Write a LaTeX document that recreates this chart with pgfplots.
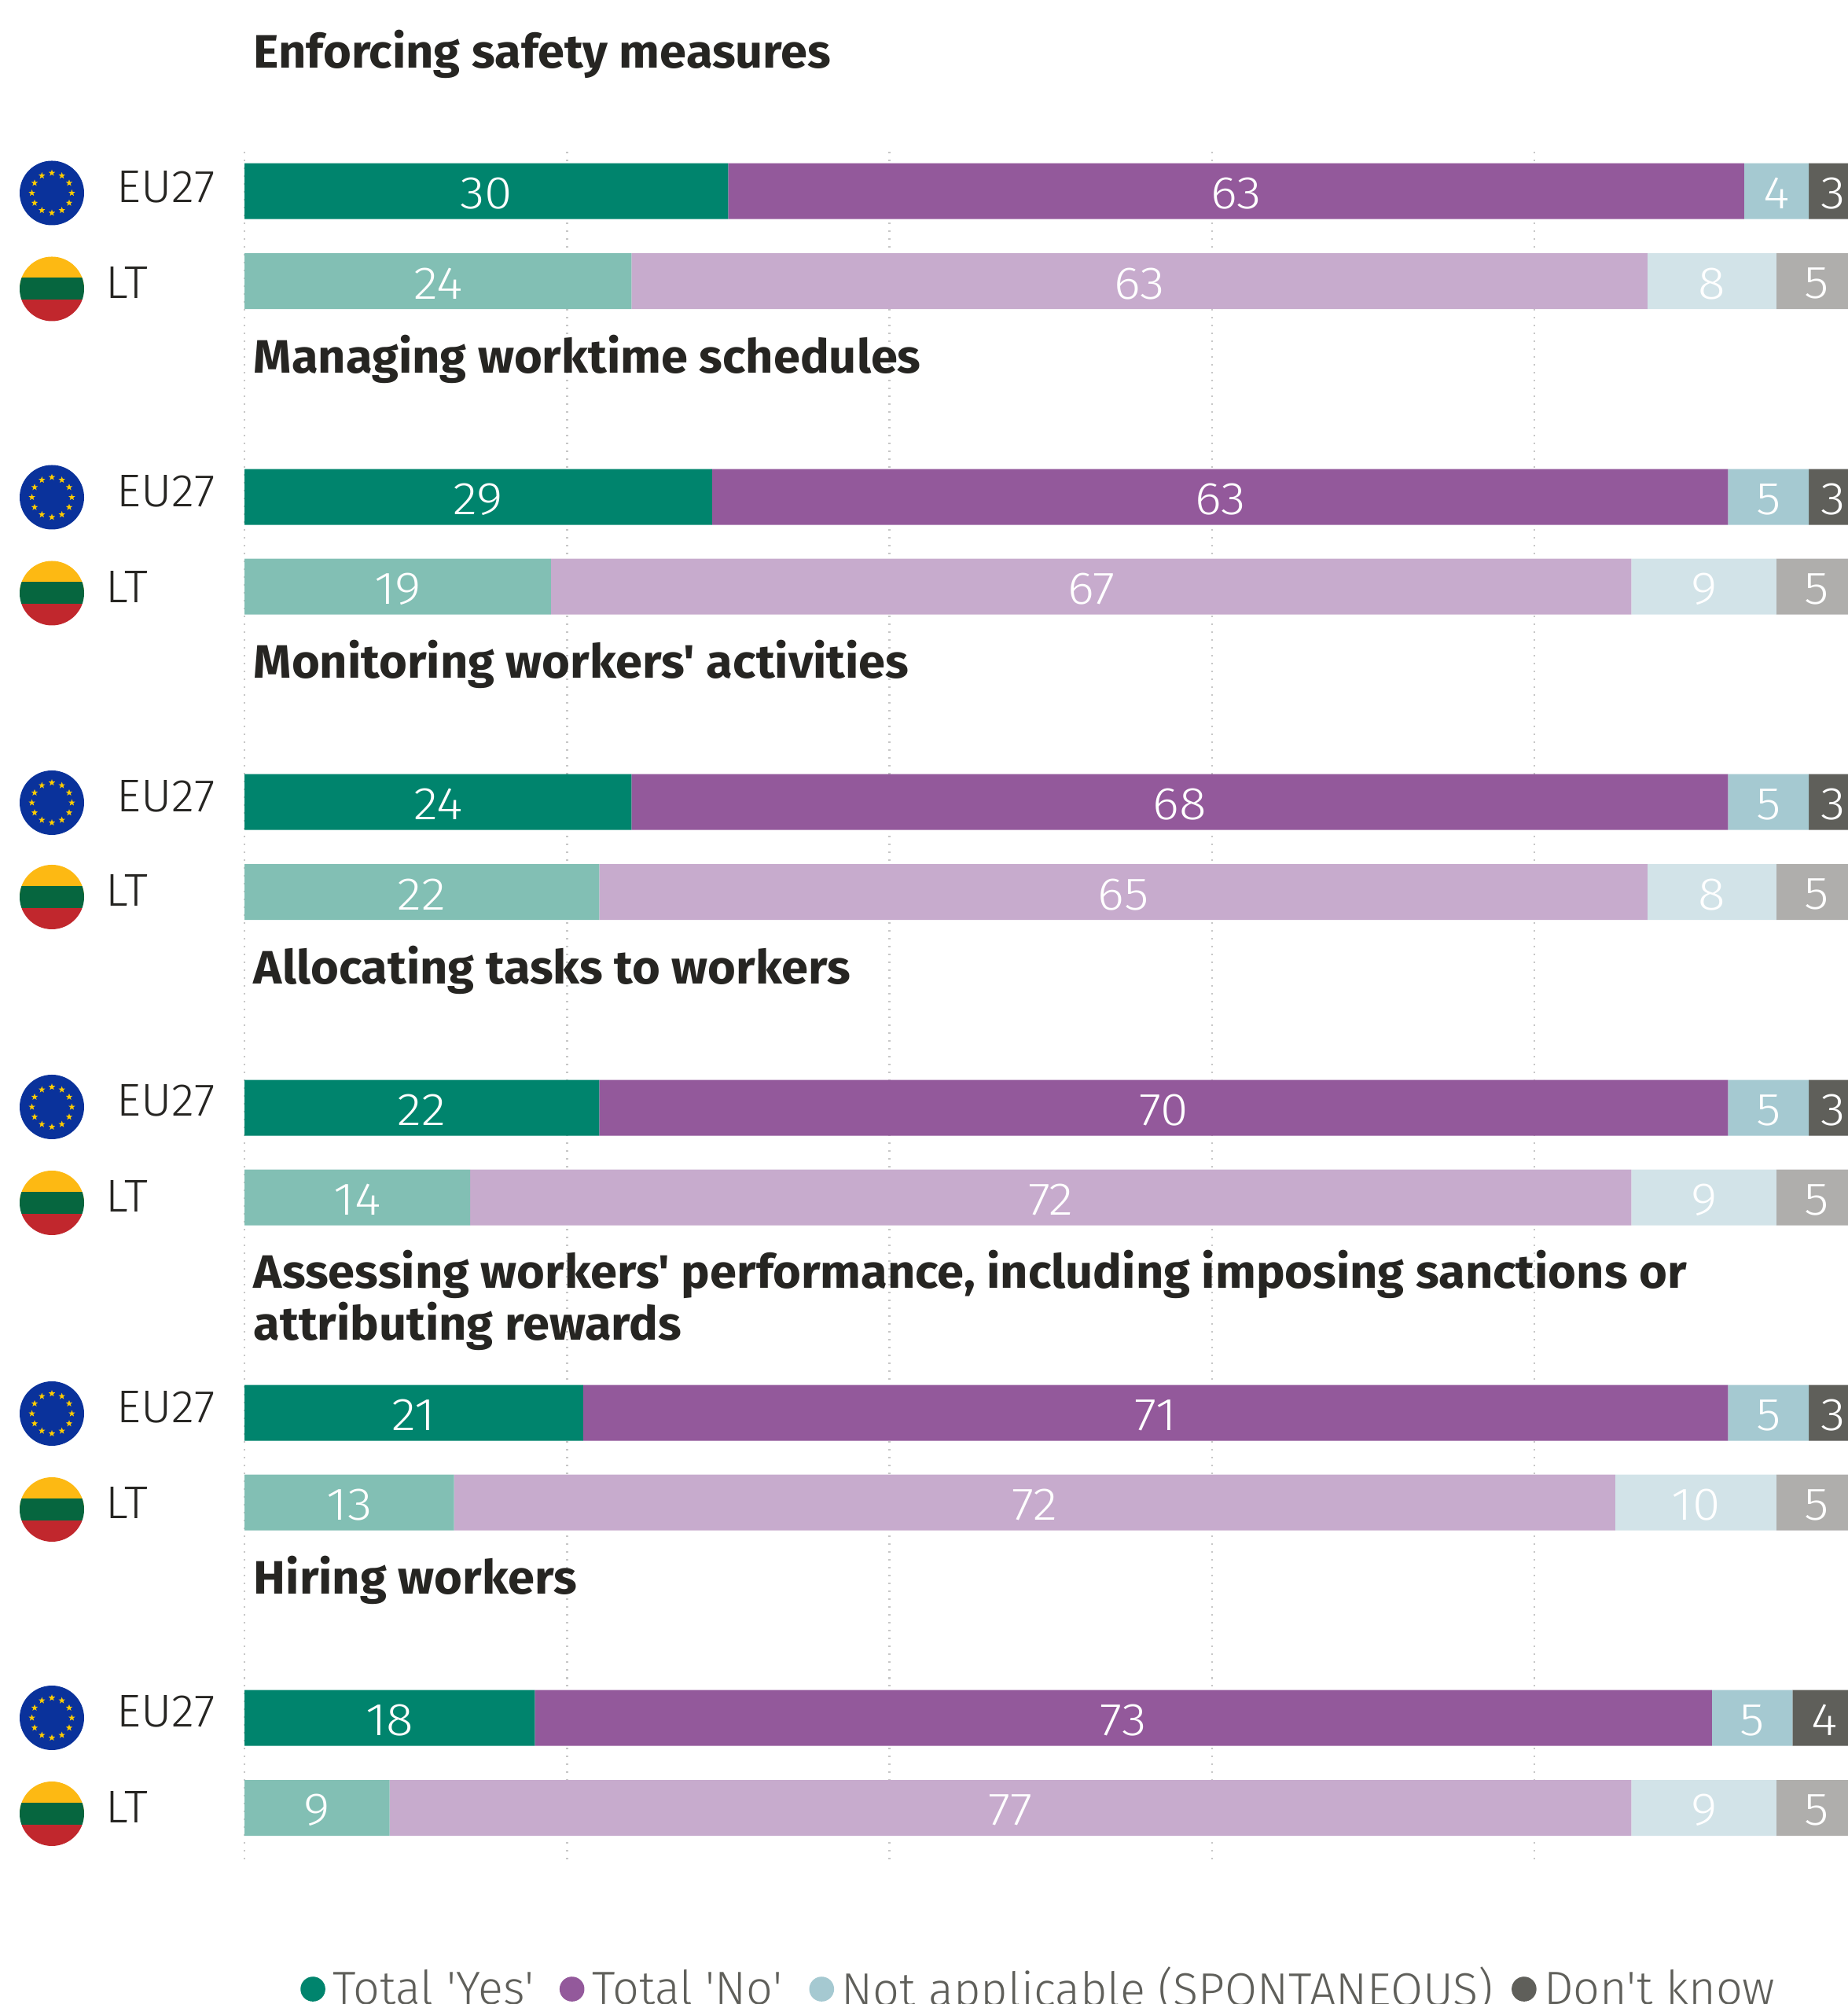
\documentclass[border=0pt]{standalone}
\usepackage{fontspec}
\usepackage{pgfplots}
\usepackage{pgfplotstable}
\pgfplotsset{compat=1.18}
\usetikzlibrary{shapes.geometric,calc}
\newfontfamily\titlefont{Fira Sans}[BoldFont={Fira Sans Bold},BoldFeatures={FakeStretch=1.03}]
\newfontfamily\lightfont{Fira Sans Light}[FakeStretch=1.03]
\newfontfamily\digitfont{Fira Sans Light}[FakeStretch=1.1]
\newfontfamily\legfont{Fira Sans Light}
\setmainfont{Fira Sans}
\definecolor{cA}{HTML}{00846D}
\definecolor{cB}{HTML}{93599B}
\definecolor{cC}{HTML}{A5C9D1}
\definecolor{cD}{HTML}{5F5F5A}
\definecolor{lA}{HTML}{82BFB4}
\definecolor{lB}{HTML}{C7ABCD}
\definecolor{lC}{HTML}{D2E3E8}
\definecolor{lD}{HTML}{AFAEAC}
\definecolor{txt}{HTML}{262522}
\definecolor{yellowstar}{HTML}{FFCC00}
\definecolor{eublue}{HTML}{0A329B}
\definecolor{ltY}{HTML}{FDB913}
\definecolor{ltG}{HTML}{06663F}
\definecolor{ltR}{HTML}{C1272D}
\pgfplotstableread{
Y Yes No NA DK
243 30 63 4 3
632 29 63 5 3
1020 24 68 5 3
1409 22 70 5 3
1797 21 71 5 3
2185 18 73 5 4
}\tableEU
\pgfplotstableread{
Y Yes No NA DK
357.5 24 63 8 5
746 19 67 9 5
1134.5 22 65 8 5
1523 14 72 9 5
1911 13 72 10 5
2299.5 9 77 9 5
}\tableLT
\pgfplotsset{base/.style={
  hide axis, scale only axis, width=595.76pt, height=637.25pt,
  at={(0pt,0pt)}, anchor=south west,
  xmin=-15.16, xmax=101, ymin=0, ymax=2549, y dir=reverse},
  stk/.style={base, xbar stacked, bar width=17.75pt,
  nodes near coords, /pgf/number format/assume math mode=true,
  every node near coord/.append style={text=white,yshift=-.8pt,font=\digitfont\fontsize{14.6}{17}\selectfont,inner sep=0pt}},
  seg/.style={fill=#1,draw=none},
  dot/.style={legend image code/.code={\fill[#1] (0pt,0pt) circle (3.75pt);}}}
\newcommand\gridline[1]{\addplot[color=black!22,line width=.6pt,dash pattern=on .6pt off 1.9pt,forget plot] coordinates {(#1,193)(#1,423)(#1,nan)(#1,582)(#1,812)(#1,nan)(#1,970)(#1,1200)(#1,nan)(#1,1359)(#1,1589)(#1,nan)(#1,1747)(#1,1977)(#1,nan)(#1,2135)(#1,2365)};}
\newcommand\euflag[1]{%
  \fill[eublue] (16.5pt,{(2549-#1)*0.25pt}) circle (10.25pt);
  \foreach \a in {0,30,...,330}
    \node[star,star points=5,star point ratio=2.4,fill=yellowstar,inner sep=0pt,minimum size=2.2pt] at ($(16.5pt,{(2549-#1)*0.25pt})+(\a:6.35pt)$) {};
  \node[anchor=base west,inner sep=0pt,text=txt,font=\lightfont\fontsize{14.6}{17}\selectfont] at (37pt,{(2549-#1-12)*0.25pt}) {EU27};}
\newcommand\ltflag[1]{%
  \begin{scope}
  \clip (16.5pt,{(2549-#1)*0.25pt}) circle (10.25pt);
  \fill[ltY] (6pt,{(2549-#1)*0.25pt}) rectangle (27pt,{(2549-#1+42)*0.25pt});
  \fill[ltG] (6pt,{(2549-#1+14)*0.25pt}) rectangle (27pt,{(2549-#1-14)*0.25pt});
  \fill[ltR] (6pt,{(2549-#1-14)*0.25pt}) rectangle (27pt,{(2549-#1-42)*0.25pt});
  \end{scope}
  \node[anchor=base west,inner sep=0pt,text=txt,font=\lightfont\fontsize{14.6}{17}\selectfont] at (33.5pt,{(2549-#1-12)*0.25pt}) {LT};}
\newcommand\ttl[2]{\node[anchor=base west,inner sep=0pt,text=txt,font=\titlefont\bfseries\fontsize{14.9}{17}\selectfont] at (80.5pt,{(2549-#1)*0.25pt}) {#2};}
\begin{document}
\begin{tikzpicture}
\useasboundingbox (0pt,0pt) rectangle (587.75pt,637.25pt);
\begin{axis}[base,
  legend style={at={(axis cs:2.85,2530)},anchor=west,draw=none,fill=none,legend columns=-1,
    /tikz/every even column/.style={column sep=5.25pt},
    nodes={inner sep=0pt},text=cD,font=\legfont\fontsize{14.85}{17}\selectfont},
  legend cell align=left]
\gridline{0}\gridline{20}\gridline{40}\gridline{60}\gridline{80}
\addlegendimage{dot=cA}\addlegendentry{\makebox[69.25pt][l]{\hspace*{2.4pt}Total 'Yes'}}
\addlegendimage{dot=cB}\addlegendentry{\makebox[66.25pt][l]{\hspace*{2.4pt}Total 'No'}}
\addlegendimage{dot=cC}\addlegendentry{\makebox[210.25pt][l]{\hspace*{2.4pt}Not applicable (SPONTANEOUS)}}
\addlegendimage{dot=cD}\addlegendentry{\hspace*{2.4pt}Don't know}
\end{axis}
\begin{axis}[stk]
\addplot[seg=cA] table[x=Yes,y=Y]{\tableEU};
\addplot[seg=cB] table[x=No,y=Y]{\tableEU};
\addplot[seg=cC] table[x=NA,y=Y]{\tableEU};
\addplot[seg=cD] table[x=DK,y=Y]{\tableEU};
\end{axis}
\begin{axis}[stk]
\addplot[seg=lA] table[x=Yes,y=Y]{\tableLT};
\addplot[seg=lB] table[x=No,y=Y]{\tableLT};
\addplot[seg=lC] table[x=NA,y=Y]{\tableLT};
\addplot[seg=lD] table[x=DK,y=Y]{\tableLT};
\end{axis}
\foreach \y in {245.5,632.5,1021,1408,1798,2185} {\euflag{\y}}
\foreach \y in {367.5,754.5,1141,1530,1920,2307} {\ltflag{\y}}
\ttl{87}{Enforcing safety measures}
\ttl{475}{Managing worktime schedules}
\ttl{863}{Monitoring workers' activities}
\ttl{1252}{Allocating tasks to workers}
\ttl{1639}{Assessing workers' performance, including imposing sanctions or}
\ttl{1705}{attributing rewards}
\ttl{2028}{Hiring workers}
\end{tikzpicture}
\end{document}
